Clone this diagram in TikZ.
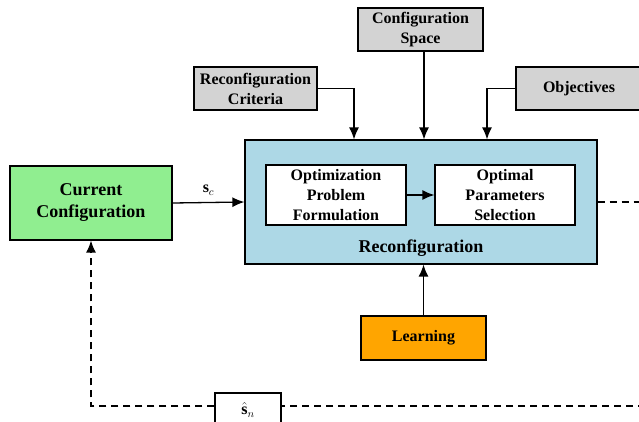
\documentclass[tikz,border=0pt]{standalone}
\usepackage{fontspec}
\setmainfont{Liberation Serif}
\usetikzlibrary{arrows.meta}
\definecolor{cgreen}{HTML}{90EE90}
\definecolor{cblue}{HTML}{ADD8E6}
\definecolor{cgray}{HTML}{D3D3D3}
\definecolor{corange}{HTML}{FFA500}
\tikzset{
  box/.style={draw, line width=1.2pt, align=center, inner sep=0pt,
    font=\fontsize{16}{20}\selectfont\bfseries},
  graybox/.style={box, fill=cgray, minimum height=43},
  arr/.style={line width=1.3pt, -{Latex[length=12pt,width=10pt]}},
  dsh/.style={line width=1.3pt, dash pattern=on 7pt off 5pt},
}
\begin{document}
\begin{tikzpicture}[x=1pt,y=-1pt]
\useasboundingbox (0,0) rectangle (639,422);
% main boxes
\node[box, fill=cgreen, minimum width=162, minimum height=74,
  font=\fontsize{18}{22}\selectfont\bfseries] (cur) at (91,203) {Current\\Configuration};
\node[box, fill=cblue, minimum width=352, minimum height=124] (rec) at (421,202) {};
\node[font=\fontsize{18}{22}\selectfont\bfseries] (reclab) at (421,248) {Reconfiguration};
\node[box, fill=white, minimum width=140, minimum height=60] (opf) at (336,195)
  {Optimization\\Problem\\Formulation};
\node[box, fill=white, minimum width=140, minimum height=60] (ops) at (505,195)
  {Optimal\\Parameters\\Selection};
\node[graybox, minimum width=125] (cs) at (420.5,29.5) {Configuration\\Space};
\node[graybox, minimum width=123] (crit) at (255.5,88.5) {Reconfiguration\\Criteria};
\node[graybox, minimum width=126] (obj) at (579,88.5) {Objectives};
\node[box, fill=corange, minimum width=125, minimum height=44] (learn) at (423.5,338) {Learning};
\node[box, fill=white, minimum width=66, minimum height=34, font=\fontsize{16}{20}\selectfont] (shat) at (248,410) {$\hat{\mathbf{s}}_n$};
% coordinates
\coordinate (re) at (645,202);
\coordinate (be) at (645,406);
\coordinate (bl) at (91,406);
% connectors
\draw[arr] (cur.east) -- (rec.west) node[midway, above=3pt, font=\fontsize{16}{20}\selectfont] {$\mathbf{s}_c$};
\draw[arr] (opf.east) -- (ops.west);
\draw[arr] (crit.east) -| ([xshift=-67]rec.north);
\draw[arr] ([xshift=3.5]cs.south) -- ([xshift=3.5]cs.south |- rec.north);
\draw[arr] (obj.west) -| ([xshift=66]rec.north);
\draw[arr] (learn.north) -- (learn.north |- rec.south);
\draw[dsh] (rec.east) -- (re);
\draw[dsh] (be) -- (shat.east |- be);
\draw[dsh, arr] (shat.west |- bl) -- (bl) -- (cur.south);
\end{tikzpicture}
\end{document}
